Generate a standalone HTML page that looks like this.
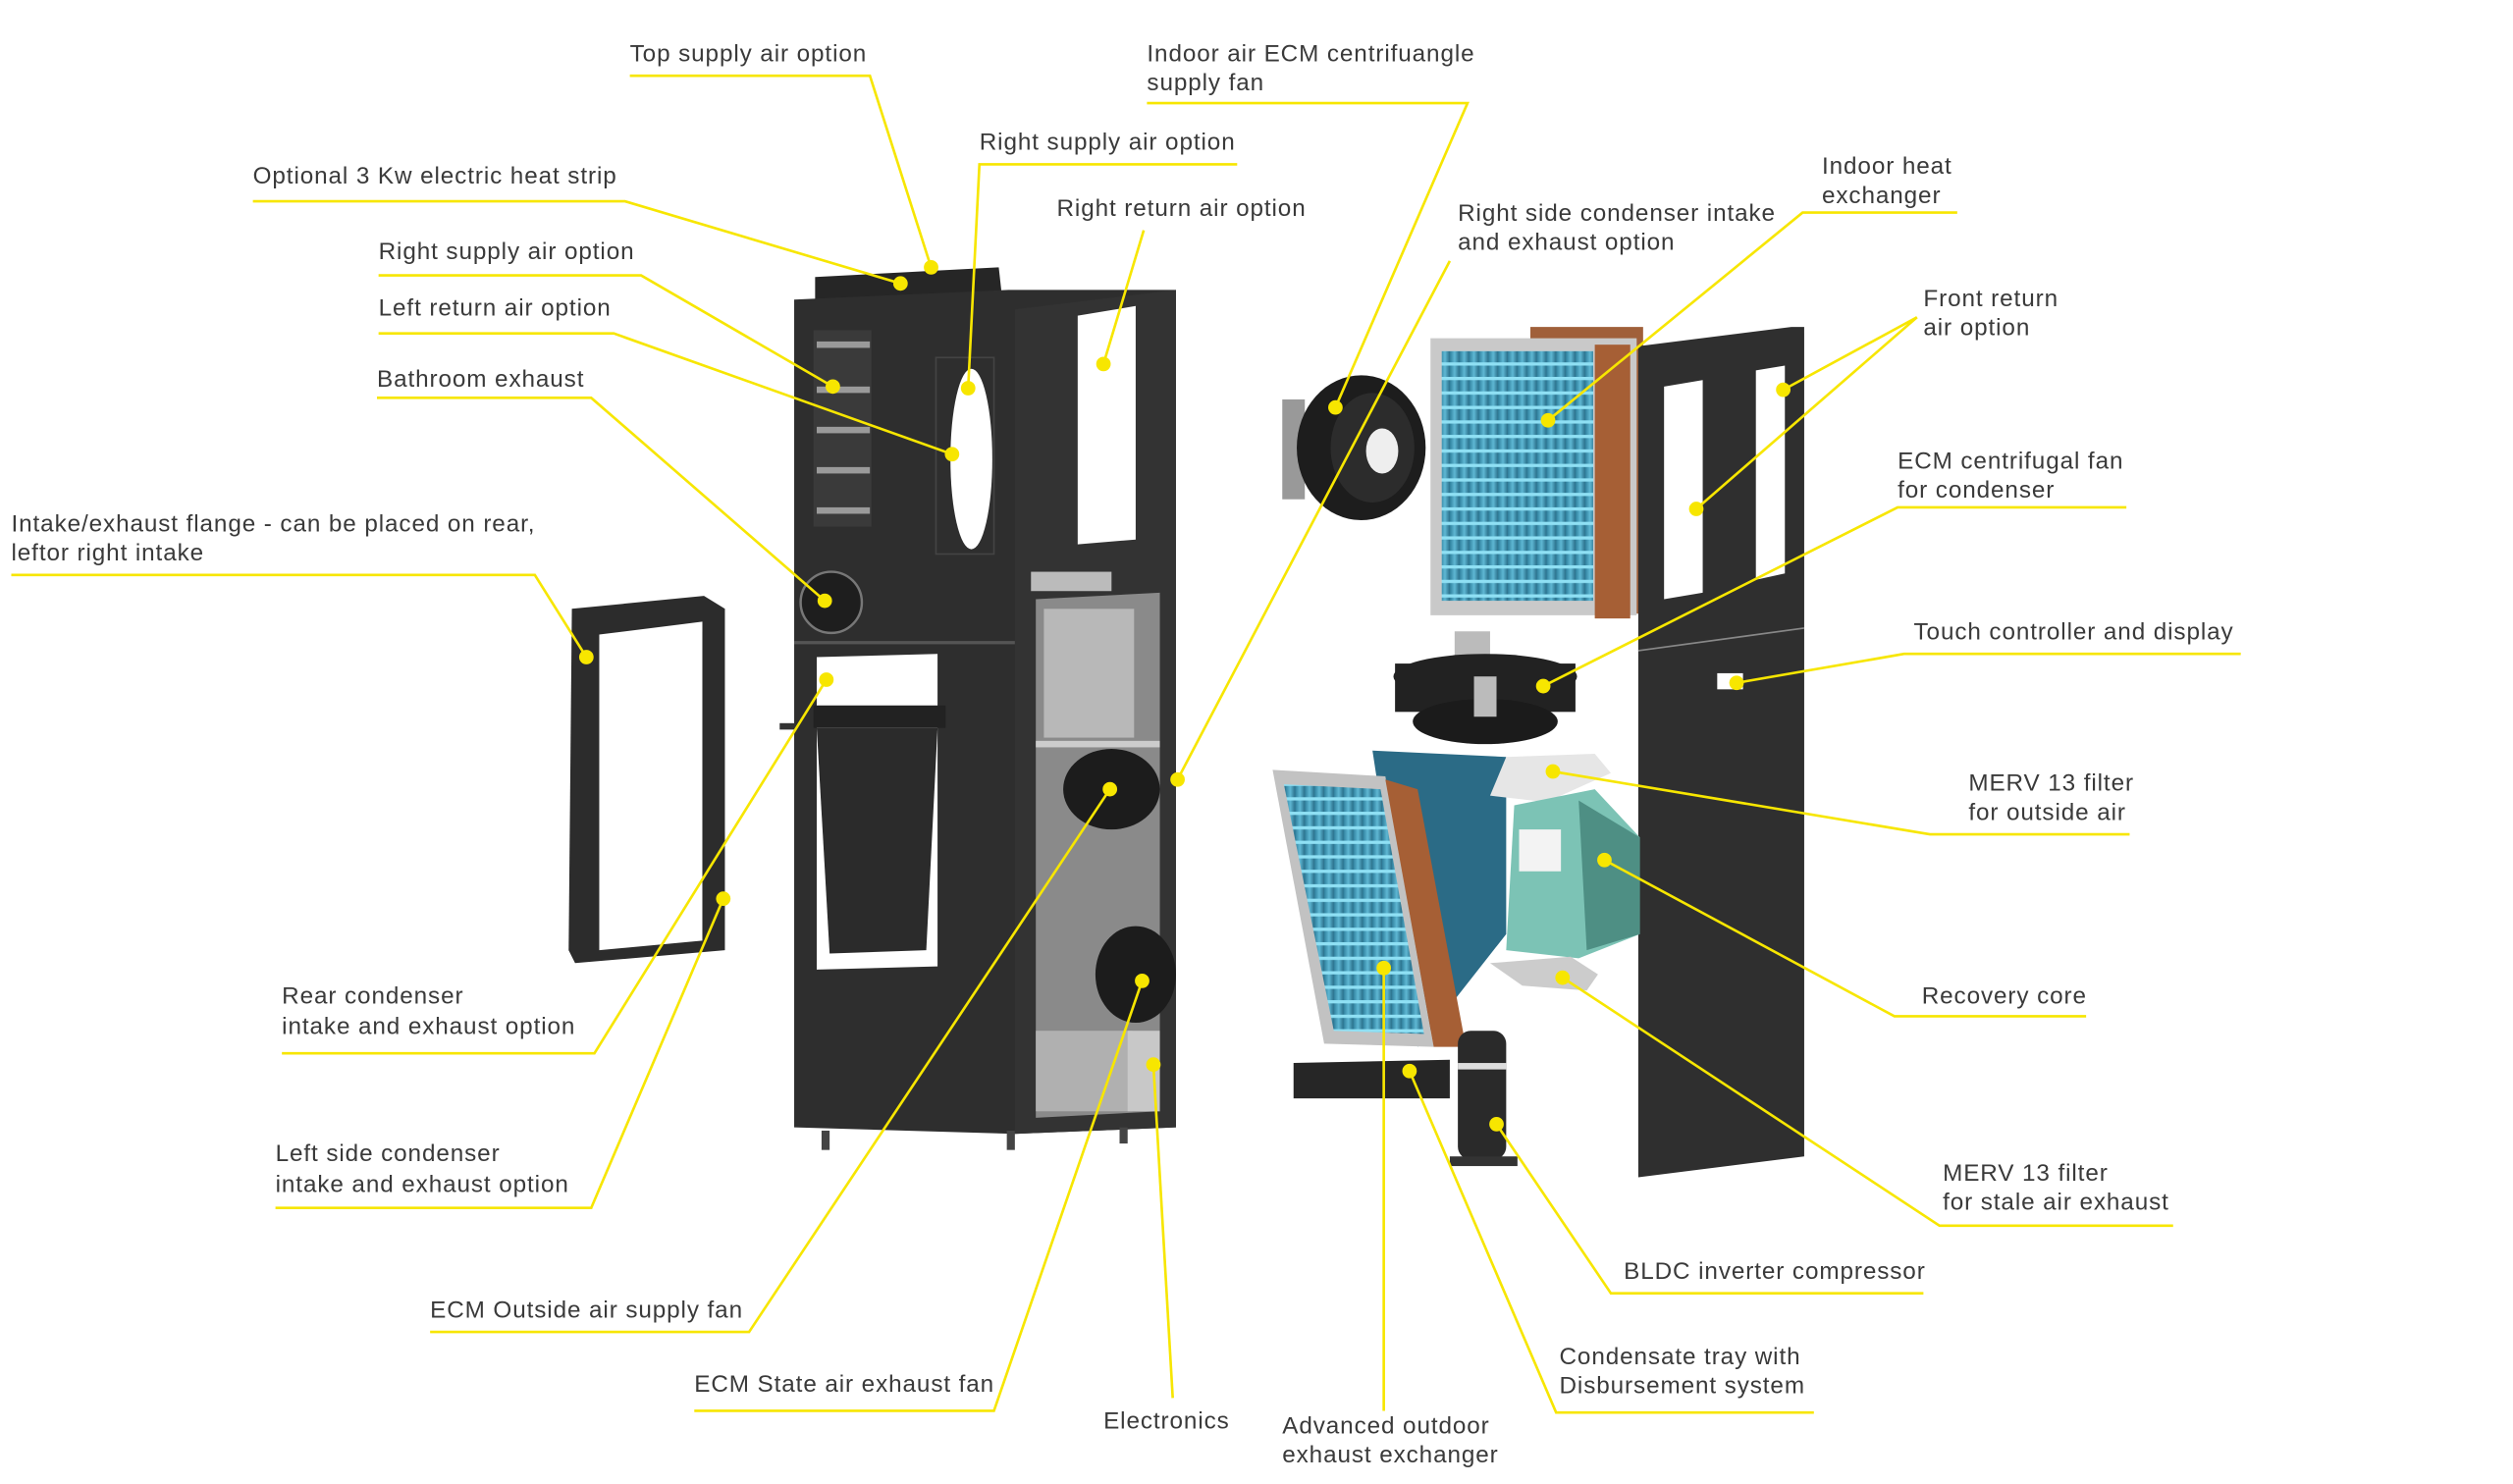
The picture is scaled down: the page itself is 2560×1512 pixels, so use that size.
<!DOCTYPE html>
<html><head><meta charset="utf-8"><style>
html,body{margin:0;padding:0;background:#fff;}
svg{display:block;}
text{font-family:"Liberation Sans",sans-serif;font-size:14.8px;letter-spacing:0.55px;fill:#3a3a3a;}
.l{stroke:#f7e600;stroke-width:1.6;fill:none;}
.d{fill:#f7e600;}
</style></head><body>
<svg width="2560" height="1512" viewBox="0 0 1560 921.4" preserveAspectRatio="none" xmlns="http://www.w3.org/2000/svg">
<defs>
<linearGradient id="coil" x1="0" x2="1"><stop offset="0" stop-color="#2f7f9c"/><stop offset="0.5" stop-color="#5fb8d4"/><stop offset="1" stop-color="#2a6f8a"/></linearGradient>
<pattern id="fins" width="6" height="9" patternUnits="userSpaceOnUse"><rect width="6" height="9" fill="url(#coil)"/><rect y="0" width="6" height="2" fill="#8fe0f4"/></pattern>
</defs>
<rect width="1560" height="921.4" fill="#fff"/>

<polygon points="355,378 437,370 450,378 450,590 357,598 353,590" fill="#2c2c2c"/>
<polygon points="372,394 436,386 436,584 372,590" fill="#fff"/>

<polygon points="506,172 620,166 622,184 506,188" fill="#262626"/>
<polygon points="493,186 626,180 730,180 730,700 630,704 493,700" fill="#2e2e2e"/>
<polygon points="630,192 730,180 730,700 630,704" fill="#333"/>
<rect x="505" y="205" width="36" height="122" fill="#3a3a3a"/>
<g fill="#9a9a9a"><rect x="507" y="212" width="33" height="4"/><rect x="507" y="240" width="33" height="4"/><rect x="507" y="265" width="33" height="4"/><rect x="507" y="290" width="33" height="4"/><rect x="507" y="315" width="33" height="4"/></g>
<ellipse cx="603" cy="285" rx="13" ry="56" fill="#fff"/>
<rect x="581" y="222" width="36" height="122" fill="none" stroke="#444"/>
<polygon points="669,196 705,190 705,335 669,338" fill="#fff"/>
<circle cx="516" cy="374" r="19" fill="#1e1e1e" stroke="#777" stroke-width="1.5"/>
<rect x="493" y="398" width="137" height="2" fill="#555"/>
<polygon points="507,408 582,406 582,600 507,602" fill="#fff"/>
<polygon points="507,452 582,452 575,590 515,592" fill="#2b2b2b"/>
<rect x="505" y="438" width="82" height="14" fill="#222"/>
<polygon points="643,372 720,368 720,690 643,694" fill="#8a8a8a"/>
<rect x="648" y="378" width="56" height="80" fill="#b8b8b8"/>
<rect x="643" y="460" width="77" height="4" fill="#ccc"/>
<ellipse cx="690" cy="490" rx="30" ry="25" fill="#1c1c1c"/>
<ellipse cx="705" cy="605" rx="25" ry="30" fill="#1c1c1c"/>
<rect x="643" y="640" width="60" height="50" fill="#b0b0b0"/>
<rect x="700" y="640" width="20" height="50" fill="#c8c8c8"/>
<rect x="640" y="355" width="50" height="12" fill="#bbb"/>
<g fill="#444"><rect x="510" y="702" width="5" height="12"/><rect x="625" y="702" width="5" height="12"/><rect x="695" y="700" width="5" height="10"/></g>
<rect x="484" y="449" width="10" height="4" fill="#333"/>

<rect x="796" y="248" width="14" height="62" fill="#999"/>
<ellipse cx="845" cy="278" rx="40" ry="45" fill="#1d1d1d"/>
<ellipse cx="852" cy="278" rx="26" ry="34" fill="#2c2c2c"/>
<ellipse cx="858" cy="280" rx="10" ry="14" fill="#eee"/>
<rect x="950" y="203" width="70" height="178" fill="#a0603a"/>
<rect x="888" y="210" width="128" height="172" fill="#c9c9c9"/>
<rect x="895" y="218" width="94" height="155" fill="url(#fins)"/>
<rect x="990" y="214" width="22" height="170" fill="#a65f35"/>
<polygon points="1017,215 1112,203 1120,203 1120,718 1017,731" fill="#2f2f2f"/>
<line x1="1017" y1="404" x2="1120" y2="390" stroke="#888" stroke-width="1"/>
<polygon points="1033,240 1057,236 1057,368 1033,372" fill="#fff"/>
<polygon points="1090,230 1108,227 1108,356 1090,360" fill="#fff"/>
<rect x="1066" y="418" width="16" height="10" fill="#fff"/>
<rect x="903" y="392" width="22" height="22" fill="#bbb"/>
<ellipse cx="922" cy="420" rx="57" ry="14" fill="#222"/>
<rect x="866" y="412" width="112" height="30" fill="#222"/>
<ellipse cx="922" cy="448" rx="45" ry="14" fill="#1b1b1b"/>
<rect x="915" y="420" width="14" height="25" fill="#bbb"/>
<polygon points="852,466 935,470 935,580 880,650" fill="#2b6b86"/>
<polygon points="790,478 860,482 890,650 822,648" fill="#c2c2c2"/>
<polygon points="797,487 857,490 884,642 828,640" fill="url(#fins)"/>
<polygon points="860,484 880,490 910,650 890,650" fill="#a65f35"/>
<polygon points="935,470 990,468 1000,480 960,498 925,494" fill="#e6e6e6"/>
<polygon points="940,500 990,490 1018,520 1018,580 980,595 935,590" fill="#7cc3b5"/>
<polygon points="980,497 1018,520 1018,580 985,590" fill="#4e8f84"/>
<rect x="943" y="515" width="26" height="26" fill="#f3f3f3"/>
<polygon points="925,598 975,594 992,605 985,615 945,612" fill="#ccc"/>
<polygon points="803,660 900,658 900,682 803,682" fill="#262626"/>
<rect x="905" y="640" width="30" height="80" rx="8" fill="#2a2a2a"/>
<rect x="905" y="660" width="30" height="4" fill="#ddd"/>
<rect x="900" y="718" width="42" height="6" fill="#333"/>

<g class="l">
<polyline points="391,47 540,47 578,166"/>
<polyline points="157,125 388,125 559,176"/>
<polyline points="235,171 398,171 517,240"/>
<polyline points="235,207 381,207 591,282"/>
<polyline points="234,247 367,247 512,373"/>
<polyline points="7,357 332,357 364,408"/>
<polyline points="175,654 369,654 513,422"/>
<polyline points="171,750 367,750 449,558"/>
<polyline points="267,827 465,827 689,490"/>
<polyline points="431,876 617,876 709,609"/>
<polyline points="728,868 716,661"/>
<polyline points="859,876 859,601"/>
<polyline points="1126,877 966,877 875,665"/>
<polyline points="1194,803 1000,803 929,698"/>
<polyline points="1349,761 1204,761 970,607"/>
<polyline points="1295,631 1176,631 996,534"/>
<polyline points="1322,518 1198,518 964,479"/>
<polyline points="1391,406 1182,406 1078,424"/>
<polyline points="1320,315 1178,315 958,426"/>
<polyline points="1190,197 1107,242"/>
<polyline points="1190,197 1053,316"/>
<polyline points="1215,132 1119,132 961,261"/>
<polyline points="900,162 731,484"/>
<polyline points="712,64 911,64 829,253"/>
<polyline points="768,102 608,102 601,241"/>
<polyline points="710,143 685,226"/>
</g>
<g class="d">
<circle cx="578" cy="166" r="4.5"/><circle cx="559" cy="176" r="4.5"/><circle cx="517" cy="240" r="4.5"/><circle cx="591" cy="282" r="4.5"/><circle cx="512" cy="373" r="4.5"/><circle cx="364" cy="408" r="4.5"/><circle cx="513" cy="422" r="4.5"/><circle cx="449" cy="558" r="4.5"/><circle cx="689" cy="490" r="4.5"/><circle cx="709" cy="609" r="4.5"/><circle cx="716" cy="661" r="4.5"/><circle cx="859" cy="601" r="4.5"/><circle cx="875" cy="665" r="4.5"/><circle cx="929" cy="698" r="4.5"/><circle cx="970" cy="607" r="4.5"/><circle cx="996" cy="534" r="4.5"/><circle cx="964" cy="479" r="4.5"/><circle cx="1078" cy="424" r="4.5"/><circle cx="958" cy="426" r="4.5"/><circle cx="1107" cy="242" r="4.5"/><circle cx="1053" cy="316" r="4.5"/><circle cx="961" cy="261" r="4.5"/><circle cx="731" cy="484" r="4.5"/><circle cx="829" cy="253" r="4.5"/><circle cx="601" cy="241" r="4.5"/><circle cx="685" cy="226" r="4.5"/>
</g>

<text x="391" y="38">Top supply air option</text>
<text x="157" y="114">Optional 3 Kw electric heat strip</text>
<text x="235" y="161">Right supply air option</text>
<text x="235" y="196">Left return air option</text>
<text x="234" y="240">Bathroom exhaust</text>
<text x="7" y="330">Intake/exhaust flange - can be placed on rear,</text>
<text x="7" y="348">leftor right intake</text>
<text x="175" y="623">Rear condenser</text>
<text x="175" y="642">intake and exhaust option</text>
<text x="171" y="721">Left side condenser</text>
<text x="171" y="740">intake and exhaust option</text>
<text x="267" y="818">ECM Outside air supply fan</text>
<text x="431" y="864">ECM State air exhaust fan</text>
<text x="685" y="887">Electronics</text>
<text x="796" y="890">Advanced outdoor</text>
<text x="796" y="908">exhaust exchanger</text>
<text x="968" y="847">Condensate tray with</text>
<text x="968" y="865">Disbursement system</text>
<text x="1008" y="794">BLDC inverter compressor</text>
<text x="1206" y="733">MERV 13 filter</text>
<text x="1206" y="751">for stale air exhaust</text>
<text x="1193" y="623">Recovery core</text>
<text x="1222" y="491">MERV 13 filter</text>
<text x="1222" y="509">for outside air</text>
<text x="1188" y="397">Touch controller and display</text>
<text x="1178" y="291">ECM centrifugal fan</text>
<text x="1178" y="309">for condenser</text>
<text x="1194" y="190">Front return</text>
<text x="1194" y="208">air option</text>
<text x="1131" y="108">Indoor heat</text>
<text x="1131" y="126">exchanger</text>
<text x="905" y="137">Right side condenser intake</text>
<text x="905" y="155">and exhaust option</text>
<text x="712" y="38">Indoor air ECM centrifuangle</text>
<text x="712" y="56">supply fan</text>
<text x="608" y="93">Right supply air option</text>
<text x="656" y="134">Right return  air option</text>
</svg>
</body></html>
